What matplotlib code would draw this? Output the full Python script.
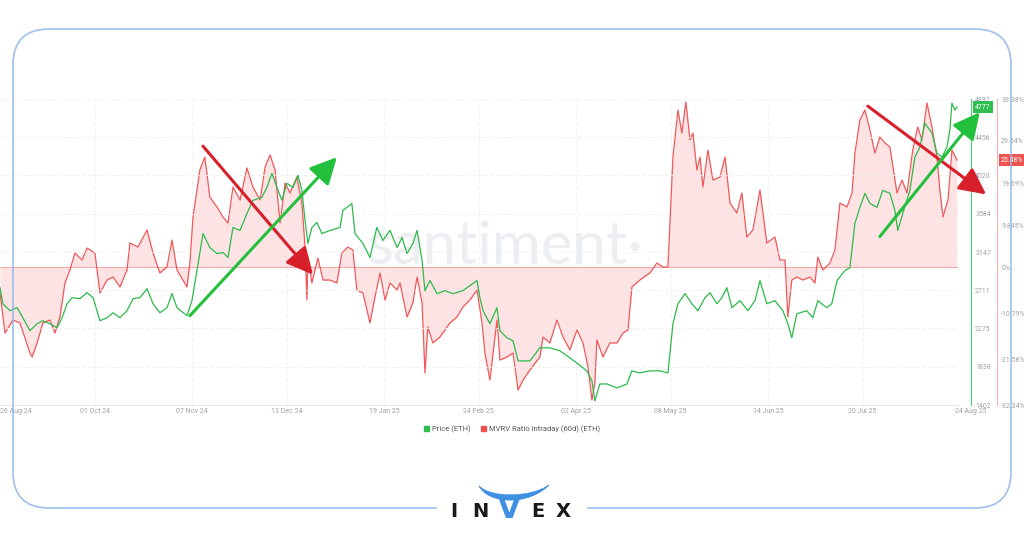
import numpy as np
import pandas as pd
import matplotlib
matplotlib.use("Agg")
import matplotlib.pyplot as plt
import matplotlib.transforms as mtransforms
from matplotlib.patches import FancyBboxPatch, Rectangle, Patch, PathPatch
from matplotlib.path import Path

plt.rcParams['font.family'] = ['Roboto', 'DejaVu Sans']

start = pd.Timestamp("2024-08-26")

# MVRV ratio intraday (60d), % -- days since 26 Aug 24
mvrv_days = [0.0, 1.9, 4.9, 7.6, 11.4, 12.2, 14.1, 16.3, 19.0, 20.9, 22.8, 24.7, 26.6, 28.5, 31.2,
             33.1, 36.1, 38.0, 40.7, 43.0, 45.6, 48.3, 49.4, 52.5, 55.9, 58.2, 60.8, 63.5, 65.4,
             67.3, 71.1, 72.2, 73.4, 76.0, 77.9, 79.8, 82.5, 84.8, 86.7, 88.6, 91.3, 93.9, 96.2,
             98.9, 100.8, 102.7, 104.6, 106.5, 108.4, 110.3, 112.9, 114.8, 116.0, 116.7, 117.1,
             118.6, 119.8, 120.9, 122.8, 125.5, 128.1, 130.0, 132.3, 134.2, 135.7, 138.0, 140.7,
             142.6, 144.5, 146.4, 148.3, 151.0, 152.1, 154.8, 157.0, 158.6, 160.5, 161.6, 162.7,
             164.6, 167.3, 171.1, 173.8, 176.0, 178.7, 181.4, 183.3, 184.4, 186.3, 189.0, 190.1,
             192.8, 195.1, 197.0, 198.9, 201.5, 205.3, 206.5, 209.1, 211.8, 214.1, 216.7, 219.4,
             221.7, 223.6, 225.1, 226.2, 227.0, 229.3, 231.9, 234.6, 236.9, 238.8, 240.3, 243.3,
             247.1, 249.8, 252.1, 254.0, 255.9, 257.8, 259.3, 260.8, 262.4, 263.5, 265.0, 266.2,
             267.3, 269.2, 271.1, 273.8, 275.7, 277.6, 280.2, 282.1, 284.0, 286.3, 289.0, 291.6,
             294.7, 296.6, 298.5, 299.6, 301.1, 303.0, 305.3, 308.0, 309.9, 311.0, 312.9, 315.6,
             317.5, 319.4, 322.1, 324.0, 325.1, 327.0, 328.9, 330.8, 332.7, 334.6, 336.5, 338.4,
             341.1, 343.0, 344.9, 347.1, 349.0, 350.6, 352.5, 354.4, 356.3, 357.4, 358.6, 359.3,
             360.5, 362.0, 363.9]
mvrv_vals = [-6.09, -15.47, -12.42, -13.13, -20.16, -21.10, -17.81, -13.13, -12.42, -15.47, -11.72,
             -3.75, -0.70, 3.28, 1.64, 4.45, 3.28, -6.09, -3.05, -2.34, -4.69, -0.70, 5.63, 4.69,
             8.67, 3.28, -1.41, 0.0, 6.33, -0.70, -4.69, 0.94, 11.72, 22.74, 25.78, 16.41, 14.06,
             11.72, 10.31, 18.75, 15.70, 23.21, 18.75, 15.70, 23.44, 26.25, 22.74, 10.31, 19.69,
             17.35, 21.10, 15.00, 4.69, -7.74, 2.34, -3.75, -0.70, 2.11, -3.05, -3.05, -3.75, 3.28,
             4.69, 3.98, -5.39, -6.09, -13.13, -7.03, -1.41, -7.74, -3.75, -5.39, -3.75, -11.72,
             -8.44, -2.34, -8.44, -24.85, -14.06, -17.81, -16.41, -13.13, -11.72, -9.38, -7.74,
             -5.39, -13.13, -20.16, -26.49, -12.42, -21.80, -21.10, -20.16, -28.83, -26.49, -24.14,
             -21.10, -16.41, -17.81, -12.42, -16.41, -19.46, -14.77, -17.81, -23.44, -31.18, -27.19,
             -17.11, -21.10, -17.81, -17.81, -15.47, -14.77, -4.69, -3.05, -1.41, 0.94, 0.0, 0.0,
             25.78, 36.80, 31.41, 38.68, 29.77, 31.41, 22.74, 25.78, 18.75, 27.42, 20.39, 21.10,
             25.78, 15.00, 12.66, 17.35, 7.03, 8.67, 18.05, 5.63, 7.03, 1.64, 1.64, -11.72, -3.05,
             -2.34, -3.05, -2.34, -3.75, 2.34, -0.70, 0.94, 3.98, 15.00, 14.06, 17.35, 26.72, 34.46,
             36.80, 32.11, 26.72, 30.47, 29.07, 28.13, 17.35, 20.39, 17.35, 27.42, 32.82, 29.77,
             38.44, 32.82, 25.78, 18.05, 11.72, 13.36, 15.70, 27.42, 25.08]

# ETH price, USD -- days since 26 Aug 24
price_days = [0.0, 1.1, 3.8, 6.5, 8.7, 11.4, 14.1, 16.3, 19.0, 21.7, 23.6, 25.5, 27.4, 30.4, 33.1,
              35.4, 38.0, 40.7, 43.0, 45.6, 48.3, 50.6, 53.2, 55.9, 58.2, 60.8, 63.5, 65.4, 67.3,
              71.1, 73.0, 74.9, 77.2, 79.8, 82.5, 84.8, 86.7, 88.6, 91.3, 93.9, 96.2, 99.6, 101.5,
              103.4, 105.3, 107.2, 109.1, 111.4, 113.3, 114.8, 116.0, 117.1, 118.6, 120.5, 122.4,
              125.5, 129.3, 130.4, 133.8, 135.0, 138.0, 140.7, 143.3, 145.6, 148.3, 151.0, 152.9,
              154.8, 157.0, 158.6, 160.5, 161.6, 163.5, 166.2, 169.2, 172.2, 176.0, 181.4, 182.5,
              183.7, 186.3, 189.0, 190.1, 192.8, 195.1, 197.0, 201.5, 205.3, 209.1, 212.9, 216.7,
              219.8, 223.2, 225.1, 226.2, 228.1, 230.8, 234.6, 238.4, 240.3, 243.3, 247.1, 251.0,
              254.0, 255.9, 257.8, 260.5, 263.1, 265.4, 268.1, 270.0, 272.6, 274.5, 276.4, 278.3,
              281.4, 284.4, 287.1, 289.0, 291.6, 294.7, 297.7, 299.6, 301.1, 303.0, 306.8, 309.1,
              311.0, 314.4, 316.3, 318.3, 321.3, 323.2, 325.1, 327.0, 328.9, 330.8, 333.5, 335.7,
              338.4, 340.3, 341.4, 343.3, 346.0, 347.9, 349.8, 351.7, 354.4, 356.3, 358.2, 360.1,
              361.2, 362.0, 363.1, 363.9]
price_vals = [2740, 2557, 2477, 2512, 2397, 2249, 2329, 2363, 2329, 2283, 2397, 2557, 2626, 2615,
              2683, 2626, 2363, 2397, 2454, 2397, 2477, 2615, 2626, 2729, 2557, 2454, 2512, 2672,
              2512, 2420, 2592, 2935, 3358, 3198, 3129, 3141, 3084, 3427, 3393, 3587, 3736, 3770,
              3884, 4045, 3884, 3736, 3930, 3884, 4022, 3850, 3507, 3244, 3427, 3484, 3358, 3393,
              3427, 3621, 3701, 3358, 3244, 3084, 3427, 3278, 3393, 3198, 3312, 3129, 3244, 3393,
              3049, 2706, 2821, 2672, 2706, 2672, 2706, 2821, 2626, 2477, 2329, 2512, 2249, 2168,
              2134, 1905, 1905, 2054, 2054, 2020, 1940, 1871, 1791, 1677, 1448, 1642, 1642, 1596,
              1642, 1791, 1768, 1791, 1791, 1768, 2329, 2557, 2672, 2557, 2477, 2626, 2683, 2557,
              2626, 2740, 2512, 2592, 2477, 2592, 2821, 2557, 2592, 2477, 2329, 2168, 2443, 2477,
              2397, 2592, 2512, 2557, 2821, 2935, 2969, 3473, 3656, 3816, 3701, 3656, 3850, 3816,
              3621, 3393, 3587, 3850, 4228, 4342, 4617, 4502, 4273, 4228, 4342, 4537, 4845, 4765,
              4800]

price_ticks = [1402, 1838, 2275, 2711, 3147, 3584, 4020, 4456, 4892]
mvrv_ticks = [-32.34, -21.58, -10.79, 0, 9.845, 19.69, 29.54, 39.38]
mvrv_labels = ["-32.34%", "-21.58%", "-10.79%", "0%", "9.845%", "19.69%", "29.54%", "39.38%"]
date_ticks = ["2024-08-26", "2024-10-01", "2024-11-07", "2024-12-13", "2025-01-19", "2025-02-24",
              "2025-04-02", "2025-05-08", "2025-06-14", "2025-07-20", "2025-08-24"]
date_labels = ["26 Aug 24", "01 Oct 24", "07 Nov 24", "13 Dec 24", "19 Jan 25", "24 Feb 25",
               "02 Apr 25", "08 May 25", "14 Jun 25", "20 Jul 25", "24 Aug 25"]
last_price_label = "4777"
last_mvrv_label = "25.48%"

# trend arrows (day, price): start -> end
arrows = [((77.2, 4354), (119.0, 2889), "#d7202a"),
          ((72.2, 2420), (128.1, 4228), "#22c03c"),
          ((330.0, 4811), (375.0, 3804), "#d7202a"),
          ((334.6, 3324), (372.6, 4742), "#22c03c")]

green = "#2cba4c"
red = "#f0585a"
pink = "#fde3e3"
gray = "#9ea3aa"

W, H = 1024, 538
fig = plt.figure(figsize=(W / 100, H / 100), dpi=100)
fig.patch.set_facecolor("white")

ax = fig.add_axes([0, 1 - 405 / H, 958 / W, 306 / H])
ax.set_xlim(0, 364.3)
ax.set_ylim(-32.34, 39.38)
ax2 = ax.twinx()
ax2.set_ylim(1402, 4892)
ax2.set_zorder(ax.get_zorder() + 1)
ax2.patch.set_visible(False)

tick_days = [(pd.Timestamp(d) - start).days for d in date_ticks]

# grid
for p in price_ticks[1:]:
    ax2.axhline(p, color="#eeeeee", lw=0.6, ls=(0, (4, 3)), zorder=0)
for d in tick_days[1:-1]:
    ax.axvline(d, color="#f0f0f0", lw=0.6, ls=(0, (4, 3)), zorder=0)

# watermark
ax.text(0.527, 0.462, "santiment·", transform=ax.transAxes, ha="center", va="baseline",
        fontsize=43, color="#eceef2", family=["Lato", "DejaVu Sans"], zorder=0)

ax.fill_between(mvrv_days, mvrv_vals, 0, color=pink, lw=0, zorder=1)
ax.hlines(0, mvrv_days[0], mvrv_days[-1], color="#f4aaaa", lw=0.8, zorder=2)
ax.plot(mvrv_days, mvrv_vals, color=red, lw=0.9, zorder=3)
ax2.plot(price_days, price_vals, color=green, lw=0.9, zorder=4)

# axes styling
for a in (ax, ax2):
    for s in ("left", "top"):
        a.spines[s].set_visible(False)
ax2.spines["bottom"].set_visible(False)
ax.spines["bottom"].set_color("#e8e8e8")
ax.spines["bottom"].set_linewidth(0.8)

ax.yaxis.tick_right()
ax.spines["right"].set_position(("axes", 997 / 958))
ax.spines["right"].set_color("#f3b3b3")
ax.set_yticks(mvrv_ticks)
ax.set_yticklabels(mvrv_labels)
ax.tick_params(axis="y", length=0, pad=3, labelsize=5, labelcolor=gray)

ax2.spines["right"].set_position(("axes", 971 / 958))
ax2.spines["right"].set_color("#52c96f")
ax2.set_yticks(price_ticks)
ax2.set_yticklabels([str(p) for p in price_ticks])
ax2.tick_params(axis="y", length=0, pad=3, labelsize=5, labelcolor=gray)

ax.set_xticks(tick_days)
ax.set_xticklabels(date_labels)
ax.tick_params(axis="x", length=0, pad=2, labelsize=5, labelcolor=gray)
xl = ax.get_xticklabels()
xl[0].set_ha("left")
xl[-1].set_ha("left")

# current value badges
tr2 = mtransforms.blended_transform_factory(ax2.transAxes, ax2.transData)
ax2.text(975 / 958, price_vals[-1], last_price_label, transform=tr2, ha="left", va="center",
         fontsize=5, color="white", bbox=dict(boxstyle="square,pad=0.3", fc="#2ebd4e", ec="none"))
tr1 = mtransforms.blended_transform_factory(ax.transAxes, ax.transData)
ax.text(1001 / 958, mvrv_vals[-1], last_mvrv_label, transform=tr1, ha="left", va="center",
        fontsize=5, color="white", bbox=dict(boxstyle="square,pad=0.3", fc="#ef5350", ec="none"))

# arrows
for (s, e, c) in arrows:
    ax2.annotate("", xy=e, xytext=s, annotation_clip=False, zorder=6,
                 arrowprops=dict(arrowstyle="-|>,head_length=0.9,head_width=0.45", color=c,
                                 lw=2.2, mutation_scale=18, shrinkA=0, shrinkB=0))

# legend
handles = [Patch(color="#2ebd4e"), Patch(color="#ef5350")]
fig.legend(handles, ["Price (ETH)", "MVRV Ratio Intraday (60d) (ETH)"], ncol=2, frameon=False,
           loc="center", bbox_to_anchor=(512 / W, 1 - 429 / H), fontsize=5.5, labelcolor="#555a60",
           handlelength=0.7, handleheight=0.7, handletextpad=0.4, columnspacing=1.3)

# frame and logo (pixel space overlay)
ov = fig.add_axes([0, 0, 1, 1])
ov.set_xlim(0, W)
ov.set_ylim(H, 0)
ov.axis("off")
ov.patch.set_alpha(0)
ov.set_zorder(10)
blue = "#3f8fe3"
ov.add_patch(FancyBboxPatch((13, 29), 998, 479, boxstyle="round,pad=0,rounding_size=36",
                            fc="none", ec="#94b8ea", lw=1.2, alpha=0.9))
ov.add_patch(Rectangle((437, 500), 150, 16, fc="white", ec="none"))
for ch, x in [("I", 454), ("N", 480), ("E", 538), ("X", 563)]:
    ov.text(x, 517, ch, ha="center", va="baseline", fontsize=14, fontweight="bold",
            color="#1a1a1a", family=["DejaVu Sans"])
ov.text(509, 518, "V", ha="center", va="baseline", fontsize=21, fontweight="bold",
        color=blue, family=["DejaVu Sans"])
horn = Path([(479, 486), (489, 505), (530, 505), (549, 485),
             (530, 498), (491, 498), (479, 486), (479, 486)],
            [Path.MOVETO, Path.CURVE4, Path.CURVE4, Path.CURVE4,
             Path.CURVE4, Path.CURVE4, Path.CURVE4, Path.CLOSEPOLY])
ov.add_patch(PathPatch(horn, fc=blue, ec=blue, lw=0.5))

fig.savefig("out.png", dpi=100, facecolor="white")
